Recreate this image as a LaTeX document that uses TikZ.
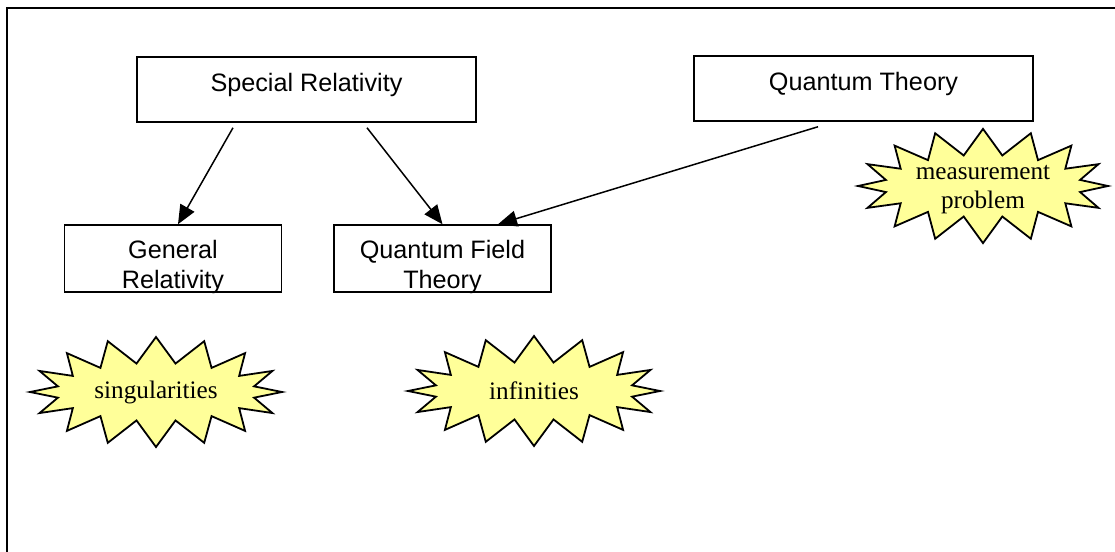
\documentclass[tikz,border=0pt]{standalone}
\usepackage{fontspec}
\setmainfont{Liberation Serif}
\setsansfont{Liberation Sans}
\usetikzlibrary{arrows.meta,shapes.symbols}
\definecolor{burstyellow}{RGB}{255,255,153}

\begin{document}
\begin{tikzpicture}[x=0.5pt, y=-0.5pt,
    theory/.style={draw, line width=0.75pt, inner sep=0pt, minimum width=169.5pt, minimum height=32.5pt,
      text height=6pt, text depth=4.5pt, font=\sffamily\fontsize{12.6}{15}\selectfont},
    branch/.style={draw, line width=0.75pt, inner sep=0pt, minimum width=108.5pt, minimum height=33.5pt,
      text height=31pt, text depth=1.5pt, align=center, font=\sffamily\fontsize{12.6}{15}\selectfont},
    burst/.style={starburst, starburst points=16, random starburst=0, starburst point height=13pt,
      draw, line width=0.9pt, fill=burstyellow, inner sep=0pt, minimum width=126pt, minimum height=55pt,
      align=center, font=\rmfamily\fontsize{12.6}{14.5}\selectfont},
    leads/.style={-{Triangle[length=9.5pt,width=8pt]}, line width=0.75pt}]
  \useasboundingbox (0,0) rectangle (1115,552);
  % The frame: only its top and left sides fall inside the page.
  \draw[line width=1pt] (7,552) -- (7,8) -- (1115,8);
  % The two starting theories along the top.
  \node[theory] (sr) at (306.5,89.5) {Special Relativity};
  \node[theory] (qt) at (863.5,88.5) {Quantum Theory};
  % What grows out of them, one row down.
  \node[branch] (gr) at (173,258.5) {General\\Relativity};
  \node[branch] (qft) at (442.5,258.5) {Quantum Field\\Theory};
  \draw[leads] ([xshift=-36.75pt,yshift=-2.5pt]sr.south) -- ([xshift=2.5pt]gr.north);
  \draw[leads] ([xshift=30.25pt,yshift=-2.5pt]sr.south) -- (qft.north);
  \draw[leads] ([xshift=-22.75pt,yshift=-2.5pt]qt.south) -- ([xshift=27.75pt]qft.north);
  % The trouble each one runs into.
  \node[burst] (sing) at (156,392) {singularities};
  \node[burst] (inf) at (534,391) {infinities};
  \node[burst, minimum width=125pt, minimum height=54pt, text height=22pt, text depth=0pt]
    (meas) at (983,186) {measurement\\problem};
\end{tikzpicture}
\end{document}
